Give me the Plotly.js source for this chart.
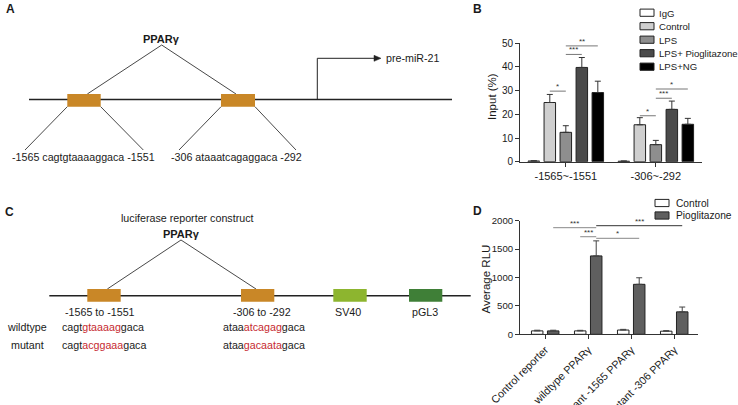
<!DOCTYPE html>
<html>
<head>
<meta charset="utf-8">
<script src="https://cdn.plot.ly/plotly-3.0.1.min.js"></script>
<style>html,body{margin:0;padding:0;background:#fff;}#chart{width:738px;height:405px;}</style>
</head>
<body>
<div id="chart"></div>
<script>
// ---------- Panel B data (ChIP, Input %) ----------
const groupsB = ['-1565~-1551', '-306~-292'];
const seriesB = ['IgG', 'Control', 'LPS', 'LPS+ Pioglitazone', 'LPS+NG'];
const iggB = [0.3, 0.2];
const controlB = [25.0, 15.6];
const lpsB = [12.4, 7.2];
const lpsPioB = [39.8, 22.1];
const lpsNgB = [29.2, 15.8];
const iggErrB = [0.1, 0.1];
const controlErrB = [3.4, 3.0];
const lpsErrB = [2.8, 1.8];
const lpsPioErrB = [4.2, 3.5];
const lpsNgErrB = [4.8, 2.5];
// significance: group, from-series, to-series, y level, label
const sigGroupB = [0, 0, 0, 1, 1, 1];
const sigFromB = [1, 2, 2, 1, 2, 2];
const sigToB = [2, 3, 4, 2, 3, 4];
const sigYB = [29.8, 45.3, 48.9, 19.4, 26.8, 30.7];
const sigLabelB = ['*', '***', '**', '*', '***', '*'];

// ---------- Panel D data (luciferase, Average RLU) ----------
const groupsD = ['Control reporter', 'wildtype PPARγ', 'mutant -1565 PPARγ', 'mutant -306 PPARγ'];
const seriesD = ['Control', 'Pioglitazone'];
const controlD = [60, 60, 75, 55];
const pioD = [60, 1380, 880, 395];
const controlErrD = [12, 10, 12, 10];
const pioErrD = [12, 265, 115, 85];
const sigGroupFromD = [0, 1, 1, 1];
const sigSerFromD = [1, 0, 1, 1];
const sigGroupToD = [1, 1, 2, 3];
const sigSerToD = [1, 1, 1, 1];
const sigYD = [1877, 1718, 1690, 1912];
const sigLabelD = ['***', '***', '*', '***'];
const sigColorD = ['#888', '#888', '#888', '#333'];

// ---------- helpers ----------
const W = 738, H = 405;
const X = px => px / W;
const Y = py => 1 - py / H;
const FONT = 'Arial, "Liberation Sans", sans-serif';
const shapes = [];
const annotations = [];
function line(x0, y0, x1, y1, color, width) {
  shapes.push({type: 'line', xref: 'paper', yref: 'paper', x0: X(x0), y0: Y(y0), x1: X(x1), y1: Y(y1),
    line: {color: color || '#333', width: width || 1}});
}
function rect(x0, y0, x1, y1, fill, lc, lw) {
  shapes.push({type: 'rect', xref: 'paper', yref: 'paper', x0: X(x0), y0: Y(y0), x1: X(x1), y1: Y(y1),
    fillcolor: fill, line: {color: lc || fill, width: lw === undefined ? 0 : lw}});
}
function text(px, py, t, opts) {
  opts = opts || {};
  annotations.push({xref: 'paper', yref: 'paper', x: X(px), y: Y(py), text: t, showarrow: false,
    xanchor: opts.xanchor || 'center', yanchor: opts.yanchor || 'middle', textangle: opts.angle || 0,
    font: {family: FONT, size: opts.size || 10.7, color: opts.color || '#1a1a1a'}});
}
const RED = '#c62a2f';
const ORANGE = '#c98727';

// ---------- Panel labels ----------
text(4, 9, '<b>A</b>', {xanchor: 'left', size: 12});
text(471, 9, '<b>B</b>', {xanchor: 'left', size: 12});
text(3, 212, '<b>C</b>', {xanchor: 'left', size: 12});
text(471, 211, '<b>D</b>', {xanchor: 'left', size: 12});

// ---------- Panel A diagram ----------
line(29, 99.5, 452, 99.5, '#222', 1.6);
text(161.7, 38.5, '<b>PPARγ</b>', {size: 11});
line(161.7, 45, 87.3, 94, '#333', 0.9);
line(161.7, 45, 236, 94, '#333', 0.9);
rect(67.3, 94, 100.7, 106.7, ORANGE);
rect(221, 94, 255, 106.7, ORANGE);
line(67.3, 106.7, 25, 150, '#333', 0.9);
line(100.7, 106.7, 143.3, 150, '#333', 0.9);
line(221, 106.7, 179, 150, '#333', 0.9);
line(255, 106.7, 296, 150, '#333', 0.9);
text(83.3, 157, '-1565 cagtgtaaaaggaca -1551');
text(236, 157, '-306 ataaatcagaggaca -292');
line(317.3, 99.5, 317.3, 58.3, '#222', 1);
line(317.3, 58.3, 376, 58.3, '#222', 1);
shapes.push({type: 'path', xref: 'paper', yref: 'paper',
  path: 'M ' + X(374) + ' ' + Y(55.3) + ' L ' + X(381) + ' ' + Y(58.3) + ' L ' + X(374) + ' ' + Y(61.3) + ' Z',
  fillcolor: '#222', line: {color: '#222', width: 0.5}});
text(383.5, 58.5, 'pre-miR-21', {xanchor: 'left'});

// ---------- Panel C diagram ----------
text(186.7, 217.5, 'luciferase reporter construct');
text(181, 234, '<b>PPARγ</b>', {size: 11});
line(181, 240, 107.3, 289, '#333', 0.9);
line(181, 240, 256, 289, '#333', 0.9);
line(49.3, 295.7, 470.7, 295.7, '#222', 1.6);
rect(87.3, 289, 120.7, 301.7, ORANGE);
rect(241, 289, 274.3, 301.7, ORANGE);
rect(333.3, 289, 366.7, 301.7, '#8db52f');
rect(409, 289, 442.3, 301.7, '#3f7f37');
text(100, 312, '-1565 to -1551');
text(262.3, 312, '-306 to -292');
text(348.3, 312, 'SV40');
text(425, 312, 'pGL3');
text(27, 326.7, 'wildtype');
text(27, 345, 'mutant');
const red = s => '<span style="color:' + RED + '">' + s + '</span>';
text(60, 326.7, 'cagt' + red('gtaaaag') + 'gaca', {xanchor: 'left'});
text(60, 345, 'cagt' + red('acggaaa') + 'gaca', {xanchor: 'left'});
text(220.7, 326.7, 'ataa' + red('atcagag') + 'gaca', {xanchor: 'left'});
text(220.7, 345, 'ataa' + red('gacaata') + 'gaca', {xanchor: 'left'});

// ---------- Panel B bars ----------
const colorsB = ['#ffffff', '#cfcfcf', '#8e8e8e', '#4a4a4a', '#000000'];
const valsB = [iggB, controlB, lpsB, lpsPioB, lpsNgB];
const errsB = [iggErrB, controlErrB, lpsErrB, lpsPioErrB, lpsNgErrB];
const slotB = 16 / 90, widthB = 11.5 / 90;
const centerB = i => (i - (seriesB.length - 1) / 2) * slotB;
const traces = [];
seriesB.forEach((name, i) => {
  traces.push({type: 'bar', name: name, x: groupsB, y: valsB[i], xaxis: 'x', yaxis: 'y',
    width: widthB, offset: centerB(i) - widthB / 2,
    marker: {color: colorsB[i], line: {color: '#222', width: 1}},
    error_y: {type: 'data', array: errsB[i], arrayminus: errsB[i].map(() => 0), symmetric: false,
      color: '#333', thickness: 1, width: 3},
    showlegend: false, hoverinfo: 'skip'});
});
sigLabelB.forEach((lab, k) => {
  const g = sigGroupB[k];
  const xa = g + centerB(sigFromB[k]), xb = g + centerB(sigToB[k]);
  shapes.push({type: 'line', xref: 'x', yref: 'y', x0: xa, x1: xb, y0: sigYB[k], y1: sigYB[k],
    line: {color: '#777', width: 1}});
  annotations.push({xref: 'x', yref: 'y', x: (xa + xb) / 2, y: sigYB[k], text: lab, showarrow: false,
    yanchor: 'bottom', yshift: -2, font: {family: FONT, size: 8, color: '#333'}});
});
// legend B
seriesB.forEach((name, i) => {
  const cy = 12.7 + i * 13.5;
  rect(640, cy - 3.6, 654, cy + 3.6, colorsB[i], '#222', 1);
  text(657, cy + 0.3, name, {xanchor: 'left', size: 9.6});
});
text(492, 97, 'Input (%)', {angle: -90, size: 11.5});

// ---------- Panel D bars ----------
const colorsD = ['#ffffff', '#5f5f5f'];
const valsD = [controlD, pioD];
const errsD = [controlErrD, pioErrD];
const slotD = 16 / 43, widthD = 11.5 / 43;
const centerD = i => (i - (seriesD.length - 1) / 2) * slotD;
seriesD.forEach((name, i) => {
  traces.push({type: 'bar', name: name, x: groupsD, y: valsD[i], xaxis: 'x2', yaxis: 'y2',
    width: widthD, offset: centerD(i) - widthD / 2,
    marker: {color: colorsD[i], line: {color: '#222', width: 1}},
    error_y: {type: 'data', array: errsD[i], arrayminus: errsD[i].map(() => 0), symmetric: false,
      color: '#444', thickness: 1, width: 3},
    showlegend: false, hoverinfo: 'skip'});
});
sigLabelD.forEach((lab, k) => {
  const xa = sigGroupFromD[k] + centerD(sigSerFromD[k]);
  const xb = sigGroupToD[k] + centerD(sigSerToD[k]);
  shapes.push({type: 'line', xref: 'x2', yref: 'y2', x0: xa, x1: xb, y0: sigYD[k], y1: sigYD[k],
    line: {color: sigColorD[k], width: 1}});
  annotations.push({xref: 'x2', yref: 'y2', x: (xa + xb) / 2, y: sigYD[k], text: lab, showarrow: false,
    yanchor: 'bottom', yshift: -2, font: {family: FONT, size: 8, color: '#333'}});
});
seriesD.forEach((name, i) => {
  const cy = 203 + i * 12.5;
  rect(655, cy - 3.6, 669, cy + 3.6, colorsD[i], '#222', 1);
  text(674, cy + 0.3, name, {xanchor: 'left', size: 10.2});
});
text(485.5, 279, 'Average RLU', {angle: -90, size: 11.5});

const axisCommon = {
  showline: true, linecolor: '#333', linewidth: 1, ticks: 'outside', ticklen: 4, tickwidth: 1,
  tickcolor: '#333', showgrid: false, zeroline: false, fixedrange: true,
  tickfont: {family: FONT, size: 10, color: '#1a1a1a'}
};

const layout = {
  width: W, height: H, margin: {l: 0, r: 0, t: 0, b: 0},
  paper_bgcolor: '#fff', plot_bgcolor: 'rgba(0,0,0,0)',
  barmode: 'overlay', showlegend: false,
  font: {family: FONT},
  xaxis: Object.assign({}, axisCommon, {domain: [X(520), X(702)], range: [-0.509, 1.513], anchor: 'y',
    type: 'category', tickfont: {family: FONT, size: 11, color: '#1a1a1a'}}),
  yaxis: Object.assign({}, axisCommon, {domain: [Y(161.7), Y(43.3)], range: [0, 50], dtick: 10, anchor: 'x'}),
  xaxis2: Object.assign({}, axisCommon, {domain: [X(520), X(698)], range: [-0.586, 3.553], anchor: 'y2',
    type: 'category', tickangle: -45, tickfont: {family: FONT, size: 10.8, color: '#1a1a1a'}}),
  yaxis2: Object.assign({}, axisCommon, {domain: [Y(334.3), Y(220.7)], range: [0, 2000], dtick: 500, anchor: 'x2',
    tickfont: {family: FONT, size: 9.6, color: '#1a1a1a'}}),
  shapes: shapes,
  annotations: annotations
};

Plotly.newPlot('chart', traces, layout, {displayModeBar: false, staticPlot: true});
</script>
</body>
</html>
